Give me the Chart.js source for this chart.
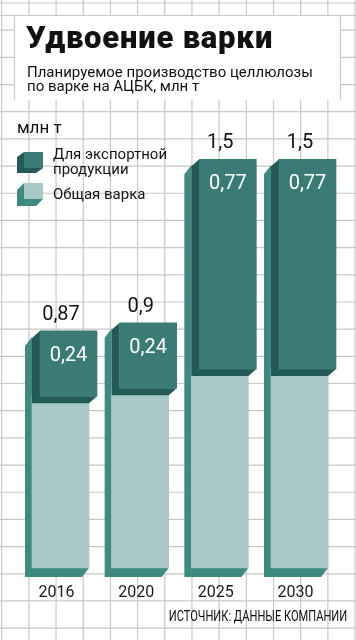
<!DOCTYPE html>
<html><head><meta charset="utf-8">
<script src="https://cdn.jsdelivr.net/npm/chart.js@4.4.0/dist/chart.umd.min.js"></script>
<style>
html,body{margin:0;padding:0;background:#fff;}
#wrap{position:relative;width:356px;height:640px;overflow:hidden;}
#c{position:absolute;left:0;top:0;}
.t{position:absolute;white-space:nowrap;color:#111;font-family:Roboto,"Noto Sans",sans-serif;}
#title{left:26px;top:22.5px;font-size:31px;line-height:30px;font-weight:900;letter-spacing:0.8px;}
#sub{left:27px;top:64.6px;font-size:15px;line-height:14px;}
#unit{left:17px;top:119px;font-size:17px;line-height:17px;}
#src{right:9px;top:609.4px;font-size:15px;line-height:15px;transform:scaleX(0.74);transform-origin:right center;}
</style></head>
<body><div id="wrap">
<canvas id="c" width="356" height="640"></canvas>
<div class="t" id="title">Удвоение варки</div>
<div class="t" id="sub">Планируемое производство целлюлозы<br>по варке на АЦБК, млн т</div>
<div class="t" id="unit">млн т</div>
<div class="t" id="src">ИСТОЧНИК: ДАННЫЕ КОМПАНИИ</div>
</div>
<script>
const categories = ['2016', '2020', '2025', '2030'];
const totalValues = [0.87, 0.9, 1.5, 1.5];      // Общая варка
const exportValues = [0.24, 0.24, 0.77, 0.77];  // Для экспортной продукции
const seriesLabels = ['Общая варка', 'Для экспортной продукции'];

const LIGHT_FRONT = '#a9c9c6';
const LIGHT_SIDE = '#3e8a81';
const DARK_FRONT = '#3a7b76';
const DARK_SIDE = '#235a55';
const GRID = '#c8c8c8';
const SHIFT = 8;

const lightSeg = totalValues.map((t, i) => Math.round((t - exportValues[i]) * 100) / 100);
const darkSeg = totalValues.map((t, i) => [lightSeg[i], t]);
const fmt = v => String(v).replace('.', ',');

function poly(ctx, pts, color) {
  ctx.fillStyle = color;
  ctx.beginPath();
  ctx.moveTo(pts[0][0], pts[0][1]);
  for (let k = 1; k < pts.length; k++) ctx.lineTo(pts[k][0], pts[k][1]);
  ctx.closePath();
  ctx.fill();
}

const deco = {
  id: 'deco',
  beforeDraw(chart) {
    const ctx = chart.ctx;
    ctx.save();
    ctx.fillStyle = '#fff';
    ctx.fillRect(0, 0, 356, 640);
    ctx.strokeStyle = GRID;
    ctx.lineWidth = 1.2;
    ctx.beginPath();
    for (let k = 0; k < 14; k++) { const x = 1.7 + 27.18 * k; ctx.moveTo(x, 0); ctx.lineTo(x, 640); }
    for (let k = 0; k < 24; k++) { const y = 3 + 27.18 * k; ctx.moveTo(0, y); ctx.lineTo(356, y); }
    ctx.stroke();
    ctx.fillStyle = '#fff';
    ctx.fillRect(14.5, 15.5, 326, 84.5);
    ctx.beginPath();
    ctx.moveTo(0, 15.5); ctx.lineTo(356, 15.5);
    ctx.moveTo(14.5, 15.5); ctx.lineTo(14.5, 100);
    ctx.moveTo(340.5, 15.5); ctx.lineTo(340.5, 100);
    ctx.stroke();
    ctx.restore();
  },
  beforeDatasetDraw(chart, args) {
    const ctx = chart.ctx;
    if (args.index === 0) {
      const dark = chart.getDatasetMeta(1).data;
      args.meta.data.forEach((el, i) => {
        const p = el.getProps(['x', 'y', 'base', 'width'], true);
        const xL = p.x - p.width / 2, xR = p.x + p.width / 2, yB = p.base;
        const yT = dark[i].getProps(['y'], true).y + 6;
        poly(ctx, [[xL, yT], [xL - 7, yT + 9], [xL - 7, yB + 9], [xR - 7, yB + 9], [xR, yB], [xL, yB]], LIGHT_SIDE);
      });
    } else {
      ctx.save();
      ctx.translate(SHIFT, 0);
      args.meta.data.forEach(el => {
        const p = el.getProps(['x', 'y', 'base', 'width'], true);
        const xL = p.x - p.width / 2, xR = p.x + p.width / 2;
        const yT = Math.min(p.y, p.base), yB = Math.max(p.y, p.base);
        poly(ctx, [[xL, yT], [xL - 8, yT + 7], [xL - 8, yB + 7], [xR - 8, yB + 7], [xR, yB], [xL, yB]], DARK_SIDE);
      });
    }
  },
  afterDatasetDraw(chart, args) {
    if (args.index === 1) chart.ctx.restore();
  },
  afterDatasetsDraw(chart) {
    const ctx = chart.ctx;
    ctx.save();
    const dark = chart.getDatasetMeta(1).data;
    const light = chart.getDatasetMeta(0).data;
    ctx.textAlign = 'center';
    ctx.textBaseline = 'middle';
    ctx.font = '20px Roboto';
    dark.forEach((el, i) => {
      const p = el.getProps(['x', 'y', 'base'], true);
      const top = Math.min(p.y, p.base);
      ctx.fillStyle = '#141414';
      ctx.fillText(fmt(totalValues[i]), light[i].x + 0.5, top - 16);
      ctx.fillStyle = '#ffffff';
      ctx.fillText(fmt(exportValues[i]), p.x + SHIFT, top + 25);
    });
    // legend
    const ds = chart.data.datasets;
    const items = [
      {d: ds[1], y: 152, ext: [7, 5], side: DARK_SIDE, front: DARK_FRONT, base: 159.3},
      {d: ds[0], y: 183, ext: [7, 7], side: LIGHT_SIDE, front: LIGHT_FRONT, base: 199}
    ];
    ctx.font = '15px Roboto';
    ctx.textAlign = 'left';
    ctx.textBaseline = 'alphabetic';
    items.forEach(it => {
      const xL = 24, xR = 43, yT = it.y, yB = it.y + 16;
      const [ex, ey] = it.ext;
      poly(ctx, [[xL, yT], [xL - ex, yT + ey], [xL - ex, yB + ey], [xR - ex, yB + ey], [xR, yB], [xL, yB]], it.side);
      ctx.fillStyle = it.front;
      ctx.fillRect(xL, yT, xR - xL, yB - yT);
      const words = it.d.label.split(' ');
      const lines = [];
      let cur = '';
      words.forEach(w => {
        const test = cur ? cur + ' ' + w : w;
        if (ctx.measureText(test).width > 118 && cur) { lines.push(cur); cur = w; } else cur = test;
      });
      lines.push(cur);
      ctx.fillStyle = '#141414';
      lines.forEach((ln, k) => ctx.fillText(ln, 53, it.base + k * 14.7));
    });
    ctx.restore();
  }
};

new Chart(document.getElementById('c'), {
  type: 'bar',
  data: {
    labels: categories,
    datasets: [
      {label: seriesLabels[0], data: lightSeg, backgroundColor: LIGHT_FRONT, barThickness: 57, borderWidth: 0, order: 1, clip: false},
      {label: seriesLabels[1], data: darkSeg, backgroundColor: DARK_FRONT, barThickness: 57, borderWidth: 0, order: 0, clip: false}
    ]
  },
  options: {
    responsive: false,
    animation: false,
    devicePixelRatio: 1,
    layout: {padding: {left: 20.67, right: 16.67, top: 23, bottom: 38.8}},
    plugins: {legend: {display: false}, tooltip: {enabled: false}},
    scales: {
      x: {
        stacked: true,
        grid: {display: false, drawTicks: false, tickLength: 0},
        border: {display: false},
        ticks: {color: '#1a1a1a', font: {family: 'Roboto', size: 16}, padding: 15, labelOffset: -4},
        afterFit(scale) { scale.height = 33.2; }
      },
      y: {stacked: false, display: false, min: 0, max: 2}
    }
  },
  plugins: [deco]
});
</script>
</body></html>
